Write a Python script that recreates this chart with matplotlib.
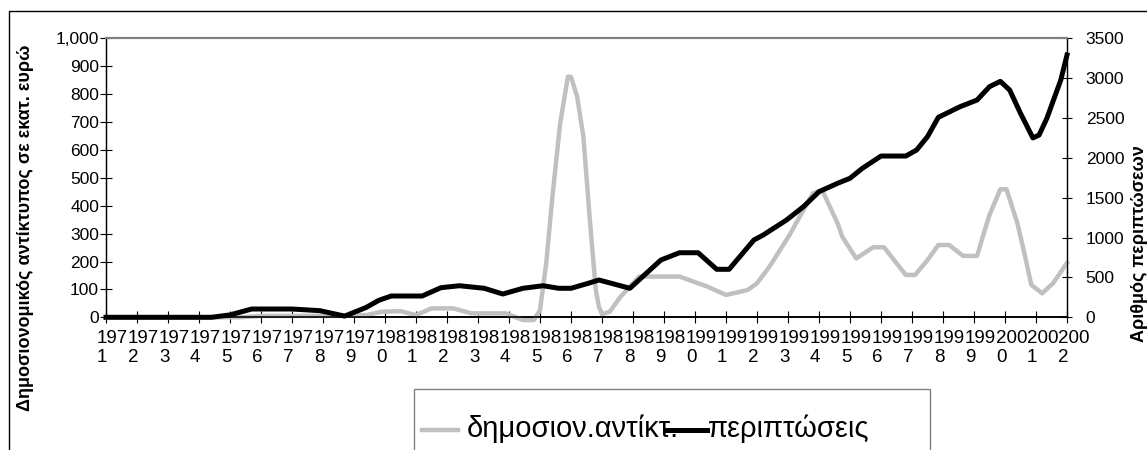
import matplotlib
matplotlib.use("Agg")
import matplotlib.pyplot as plt
from matplotlib.patches import Rectangle
from matplotlib.lines import Line2D
from matplotlib.transforms import ScaledTranslation

plt.rcParams['font.family'] = ['Liberation Sans', 'DejaVu Sans']

# ---- data ----
years = list(range(1971, 2003))
year_labels = [f"{str(y)[:3]}\n{str(y)[3:]}" for y in years]

fiscal_x = [1971.0, 1975.3, 1976.0, 1978.5, 1979.4, 1979.9, 1980.5, 1981.0, 1981.5, 1982.2,
            1982.8, 1983.9, 1984.45, 1984.8, 1985.0, 1985.2, 1985.4, 1985.65, 1985.9, 1986.0,
            1986.2, 1986.4, 1986.6, 1986.8, 1986.9, 1987.0, 1987.25, 1987.6, 1988.2, 1989.5,
            1990.4, 1991.0, 1991.7, 1992.0, 1992.4, 1993.05, 1993.5, 1993.8, 1994.1, 1994.6,
            1994.75, 1995.2, 1995.75, 1996.1, 1996.5, 1996.8, 1997.1, 1997.5, 1997.85, 1998.2,
            1998.65, 1999.1, 1999.25, 1999.5, 1999.85, 2000.05, 2000.4, 2000.65, 2000.85, 2001.2,
            2001.55, 2002.0]
fiscal_vals = [0, 0, 5, 5, 8, 20, 22, 8, 32, 32,
               14, 14, -10, -10, 26, 193, 432, 695, 862, 862,
               790, 647, 360, 98, 38, 11, 20, 74, 146, 146,
               110, 80, 98, 122, 181, 295, 385, 444, 456, 337,
               289, 211, 251, 251, 194, 152, 152, 205, 259, 259,
               220, 220, 277, 367, 459, 459, 337, 217, 116, 86,
               122, 195]

cases_x = [1971.0, 1974.4, 1975.0, 1975.7, 1977.0, 1977.9, 1978.7, 1979.4, 1979.8, 1980.2,
           1981.2, 1981.8, 1982.4, 1983.2, 1983.8, 1984.45, 1985.1, 1985.6, 1986.0, 1986.5,
           1986.9, 1987.9, 1988.9, 1989.5, 1990.1, 1990.7, 1991.1, 1991.9, 1992.2, 1992.95,
           1993.5, 1994.0, 1994.6, 1995.0, 1995.4, 1996.0, 1996.8, 1997.15, 1997.5, 1997.85,
           1998.55, 1999.1, 1999.5, 1999.85, 2000.15, 2000.5, 2000.9, 2001.1, 2001.35, 2001.8,
           2002.0]
cases_vals = [0, 0, 30, 104, 104, 83, 15, 125, 213, 267,
              267, 371, 396, 364, 292, 364, 396, 364, 364, 420,
              468, 364, 719, 810, 810, 602, 602, 970, 1032, 1220,
              1388, 1576, 1681, 1744, 1869, 2023, 2023, 2099, 2266, 2509,
              2642, 2726, 2893, 2960, 2851, 2559, 2250, 2287, 2496, 2977,
              3290]

left_ticks = list(range(0, 1001, 100))
right_ticks = list(range(0, 3501, 500))

series_names = ["δημοσιον.αντίκτ.", "περιπτώσεις"]
left_title = "Δημοσιονομικός αντίκτυπος σε εκατ. ευρώ"
right_title = "Αριθμός περιπτώσεων"

# ---- figure ----
W, H = 1147, 450
fig = plt.figure(figsize=(W / 100, H / 100), dpi=100)
fig.patch.set_facecolor('white')

x0, x1, yt, yb = 106, 1067, 38.3, 317.3
ax = fig.add_axes([x0 / W, 1 - yb / H, (x1 - x0) / W, (yb - yt) / H])
ax2 = ax.twinx()

ax.plot(fiscal_x, fiscal_vals, color='#c0c0c0', lw=3.2, clip_on=False,
        solid_joinstyle='round', zorder=3)
ax2.plot(cases_x, cases_vals, color='black', lw=3.6, clip_on=False,
         solid_joinstyle='round', zorder=3)

ax.set_xlim(1971, 2002)
ax.set_ylim(0, 1000)
ax2.set_ylim(0, 3500)

ax.set_yticks(left_ticks)
ax.set_yticklabels([f"{v:,}" for v in left_ticks])
ax2.set_yticks(right_ticks)
ax2.set_yticklabels([str(v) for v in right_ticks])

ax.set_xticks(years)
ax.set_xticklabels(year_labels)
ax.tick_params(axis='x', direction='inout', length=8, width=0.8, pad=5,
               labelsize=13.5)
ax.tick_params(axis='y', direction='inout', length=8, width=0.8, pad=1,
               labelsize=12.5)
ax2.tick_params(axis='y', direction='inout', length=7, width=0.8, pad=10,
                labelsize=12.5)

off = ScaledTranslation(-9 / 100, 0, fig.dpi_scale_trans)
for lbl in ax.get_xticklabels():
    lbl.set_horizontalalignment('left')
    lbl.set_multialignment('left')
    lbl.set_linespacing(1.15)
    lbl.set_transform(lbl.get_transform() + off)

for a in (ax, ax2):
    a.spines['top'].set_color('#808080')
    a.spines['top'].set_linewidth(1.5)
    a.spines['left'].set_color('black')
    a.spines['left'].set_linewidth(0.9)
    a.spines['right'].set_color('black')
    a.spines['right'].set_linewidth(0.9)
    a.spines['bottom'].set_color('black')
    a.spines['bottom'].set_linewidth(1.2)
ax.patch.set_alpha(0)

# axis titles
fig.text(26 / W, 1 - 228 / H, left_title, rotation=90, ha='center', va='center',
         fontsize=13, fontweight='bold')
fig.text(1139 / W, 1 - 244 / H, right_title, rotation=90, ha='center', va='center',
         fontsize=13, fontweight='bold')

# outer chart border
fig.add_artist(Rectangle((9 / W, -0.1), 1.2, (H - 11) / H + 0.1, transform=fig.transFigure,
                         fill=False, lw=1.0, ec='black'))

# legend (manual, Excel-like)
fig.add_artist(Rectangle((414 / W, -0.1), (930 - 414) / W, (H - 389) / H + 0.1,
                         transform=fig.transFigure, fill=False, lw=1.0, ec='#808080'))
fig.add_artist(Line2D([422 / W, 458 / W], [1 - 430 / H] * 2, transform=fig.transFigure,
                      color='#c0c0c0', lw=3.2))
fig.text(467 / W, 1 - 437 / H, series_names[0], fontsize=21, va='baseline', ha='left')
fig.add_artist(Line2D([667 / W, 707 / W], [1 - 430 / H] * 2, transform=fig.transFigure,
                      color='black', lw=3.6, zorder=5))
fig.text(708 / W, 1 - 437 / H, series_names[1], fontsize=21, va='baseline', ha='left')

fig.savefig("out.png", dpi=100, facecolor='white')
